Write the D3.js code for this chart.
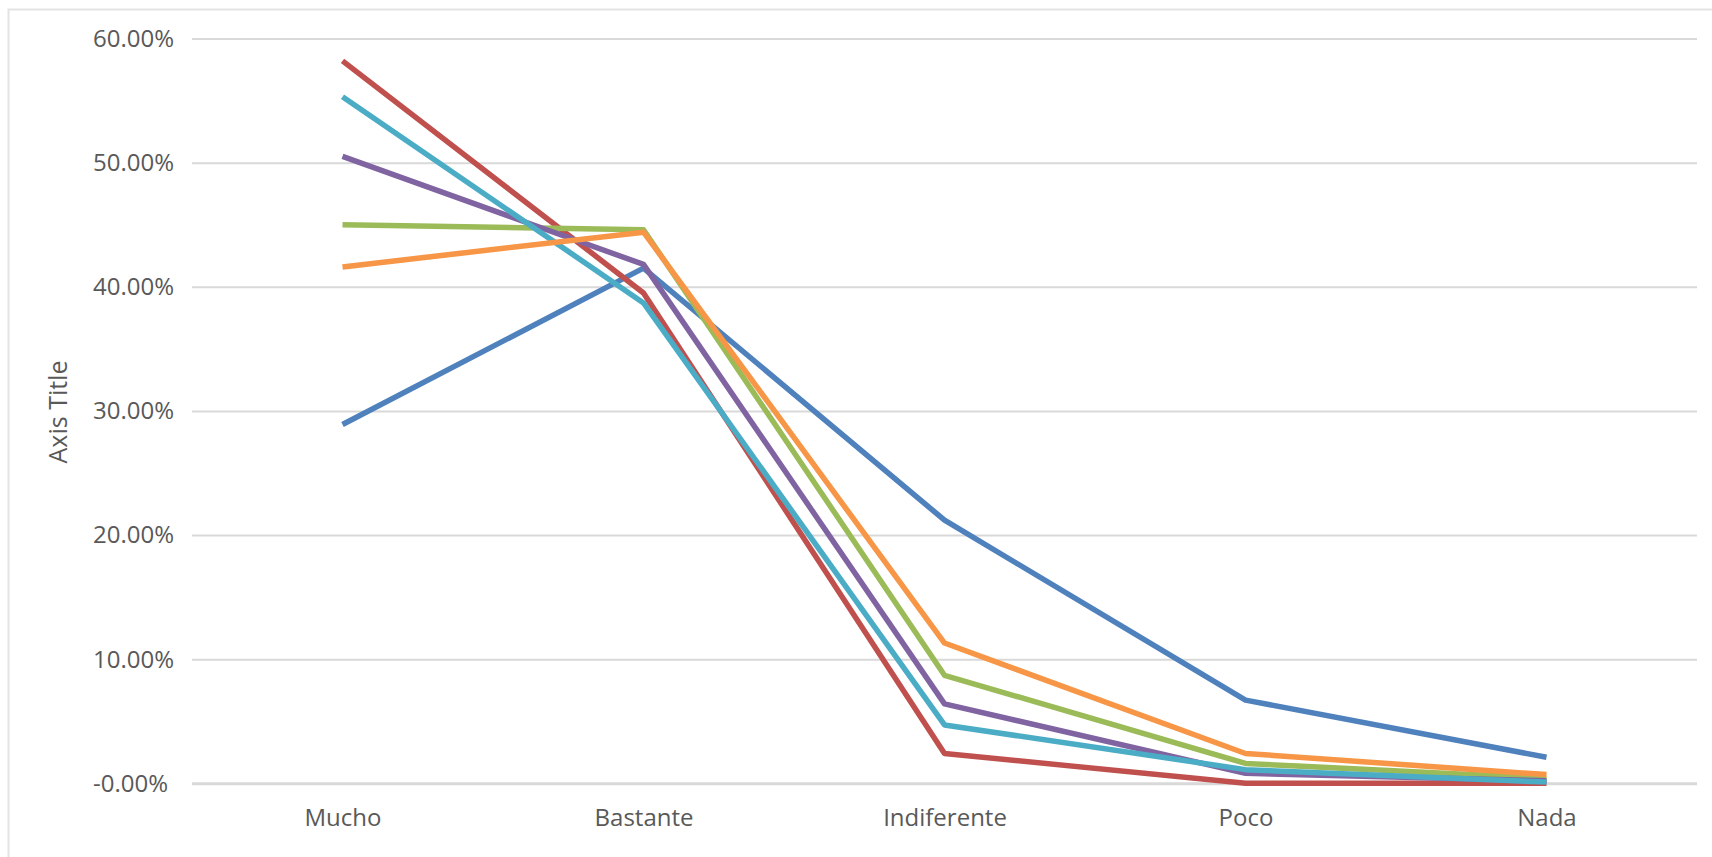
<!DOCTYPE html>
<html>
<head>
<meta charset="utf-8">
<script src="https://cdn.jsdelivr.net/npm/d3@7"></script>
<style>
  html, body { margin: 0; padding: 0; background: #fff; }
  svg { display: block; font-family: "Open Sans", "Noto Sans", sans-serif; }
</style>
</head>
<body>
<svg id="chart" width="1712" height="857"></svg>
<script>
const categories = ["Mucho", "Bastante", "Indiferente", "Poco", "Nada"];
const seriesNames = ["Series1", "Series2", "Series3", "Series4", "Series5", "Series6"];
const seriesColors = ["#4F81BD", "#C0504D", "#9BBB59", "#8064A2", "#4BACC6", "#F79646"];
const s1 = [0.289, 0.415, 0.212, 0.067, 0.021];
const s2 = [0.582, 0.395, 0.024, 0.000, 0.000];
const s3 = [0.450, 0.446, 0.087, 0.016, 0.004];
const s4 = [0.505, 0.418, 0.064, 0.008, 0.002];
const s5 = [0.553, 0.387, 0.047, 0.011, 0.001];
const s6 = [0.416, 0.444, 0.113, 0.024, 0.007];
const seriesValues = [s1, s2, s3, s4, s5, s6];
const yTicks = [0, 0.1, 0.2, 0.3, 0.4, 0.5, 0.6];
const yTickLabels = ["-0.00%", "10.00%", "20.00%", "30.00%", "40.00%", "50.00%", "60.00%"];
const axisTitle = "Axis Title";

const svg = d3.select("#chart");
const W = 1712, H = 857;
const plot = { left: 192, right: 1697, top: 38.5, bottom: 783.3 };

// frame
svg.append("rect").attr("x", 0).attr("y", 0).attr("width", W).attr("height", H).attr("fill", "#fff");
svg.append("rect")
  .attr("x", 8.5).attr("y", 9.5).attr("width", W + 20).attr("height", H + 20)
  .attr("fill", "none").attr("stroke", "#e3e3e3").attr("stroke-width", 2);

const x = d3.scalePoint().domain(categories).range([plot.left, plot.right]).padding(0.5);
const y = d3.scaleLinear().domain([0, 0.6]).range([plot.bottom, plot.top]);

// gridlines
const grid = svg.append("g")
  .attr("transform", `translate(${plot.left},0)`)
  .call(d3.axisLeft(y).tickValues(yTicks).tickSize(-(plot.right - plot.left)).tickFormat(""));
grid.select(".domain").remove();
grid.selectAll(".tick line")
  .attr("stroke", "#d9d9d9")
  .attr("stroke-width", d => d === 0 ? 3 : 2);

// y labels
svg.append("g").selectAll("text")
  .data(yTicks)
  .join("text")
  .attr("x", 93)
  .attr("y", d => y(d))
  .attr("dy", "0.35em")
  .attr("text-anchor", "start")
  .attr("font-size", 24)
  .attr("fill", "#595959")
  .text((d, i) => yTickLabels[i]);

// x axis labels
const xAxis = svg.append("g")
  .attr("transform", `translate(0,${plot.bottom})`)
  .call(d3.axisBottom(x).tickSize(0).tickPadding(0));
xAxis.select(".domain").remove();
xAxis.selectAll("text")
  .attr("y", 34)
  .attr("dy", "0.35em")
  .attr("font-size", 24)
  .attr("font-family", "'Open Sans', 'Noto Sans', sans-serif")
  .attr("fill", "#595959");

// axis title
svg.append("text")
  .attr("transform", `translate(58,412) rotate(-90)`)
  .attr("text-anchor", "middle")
  .attr("dy", "0.35em")
  .attr("font-size", 25)
  .attr("fill", "#595959")
  .text(axisTitle);

// lines
const line = d3.line()
  .x((d, i) => x(categories[i]))
  .y(d => y(d));

svg.append("g").selectAll("path")
  .data(seriesValues)
  .join("path")
  .attr("d", d => line(d))
  .attr("fill", "none")
  .attr("stroke", (d, i) => seriesColors[i])
  .attr("stroke-width", 5.5)
  .attr("stroke-linejoin", "round")
  .attr("stroke-linecap", "butt");
</script>
</body>
</html>
